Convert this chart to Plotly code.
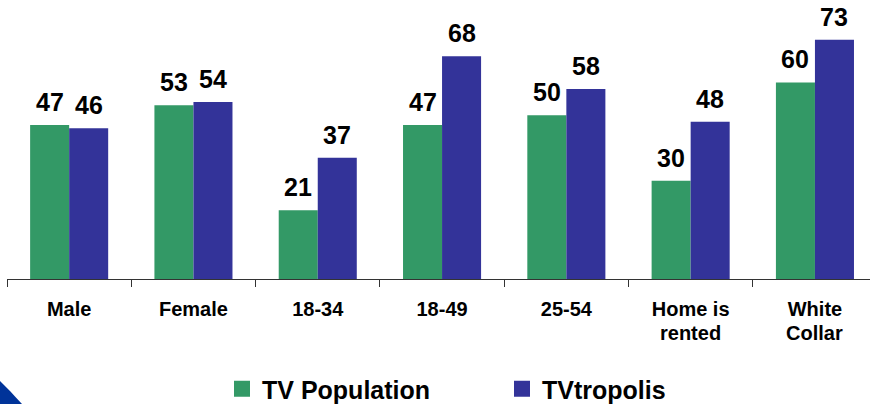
import plotly.graph_objects as go

categories = ["Male", "Female", "18-34", "18-49", "25-54", "Home is rented", "White Collar"]
label_line1 = ["Male", "Female", "18-34", "18-49", "25-54", "Home is", "White"]
label_line2 = ["", "", "", "", "", "rented", "Collar"]
tv_population = [47, 53, 21, 47, 50, 30, 60]
tvtropolis = [46, 54, 37, 68, 58, 48, 73]
series_names = ["TV Population", "TVtropolis"]

GREEN = "#339966"
BLUE = "#333399"
FONT = "Liberation Sans, Arial, sans-serif"

W, H = 870, 404
ML, MR, MT, MB = 7, 0, 0, 125
PW, PH = W - ML - MR, H - MT - MB
CAT_PX = 124.3
BARGAP = 0.372
half = (1 - BARGAP) / 4  # offset of each bar center from category center

xs = list(range(len(categories)))

fig = go.Figure()
fig.add_trace(go.Bar(x=xs, y=tv_population, name=series_names[0],
                     marker=dict(color=GREEN, line=dict(width=0)), showlegend=False))
fig.add_trace(go.Bar(x=xs, y=tvtropolis, name=series_names[1],
                     marker=dict(color=BLUE, line=dict(width=0)), showlegend=False))
# legend entries
for nm, col in zip(series_names, [GREEN, BLUE]):
    fig.add_trace(go.Scatter(x=[None], y=[None], mode="markers", name=nm,
                             marker=dict(symbol="square", size=16, color=col)))

annotations = []
for i, (a, b) in enumerate(zip(tv_population, tvtropolis)):
    for v, dx in ((a, -half), (b, half)):
        annotations.append(dict(x=i + dx, y=v, xref="x", yref="y", text=str(v),
                                showarrow=False, yanchor="bottom", yshift=7,
                                font=dict(family=FONT, size=25, color="black", weight="bold")))
for i, t in enumerate(label_line2):
    if t:
        annotations.append(dict(x=i, y=-(346 - PH) / PH, xref="x", yref="paper", text=t,
                                showarrow=False, yanchor="bottom",
                                font=dict(family=FONT, size=20, color="black", weight="bold")))

def px(xp, yp):
    return ((xp - ML) / PW, (PH - yp) / PH)

pts = [(-5, 376), (0, 381), (5, 386), (10, 391), (15, 396.5), (22, 404), (22, 412), (-5, 412)]
path = "M " + " L ".join(f"{px(a, b)[0]:.5f},{px(a, b)[1]:.5f}" for a, b in pts) + " Z"

fig.update_layout(
    width=W, height=H,
    margin=dict(l=ML, r=MR, t=MT, b=MB),
    paper_bgcolor="white", plot_bgcolor="white",
    barmode="group", bargap=BARGAP, bargroupgap=0,
    xaxis=dict(range=[-0.5, -0.5 + PW / CAT_PX], tickvals=xs, ticktext=label_line1,
               ticks="", showgrid=False, zeroline=False, ticklabelstandoff=12,
               showline=True, linecolor="#333333", linewidth=1,
               tickfont=dict(family=FONT, size=20, color="black", weight="bold"),
               minor=dict(tickvals=[i - 0.5 for i in range(len(categories) + 1)],
                          ticks="outside", ticklen=7, tickwidth=1, tickcolor="#333333"),
               fixedrange=True),
    yaxis=dict(range=[0, PH / 3.277], visible=False, showgrid=False, zeroline=False,
               fixedrange=True),
    legend=dict(orientation="h", xref="container", yref="container",
                x=222 / W, xanchor="left", y=1 - 389 / H, yanchor="middle",
                entrywidth=235, entrywidthmode="pixels",
                font=dict(family=FONT, size=25, color="black", weight="bold"),
                bgcolor="rgba(0,0,0,0)"),
    annotations=annotations,
    shapes=[dict(type="path", xref="paper", yref="paper", path=path,
                 fillcolor="#003399", line=dict(width=0), layer="above")],
)

fig.write_html("out.html", config={"displayModeBar": False},
               post_script="document.body.style.margin='0px';document.body.style.overflow='hidden';")
